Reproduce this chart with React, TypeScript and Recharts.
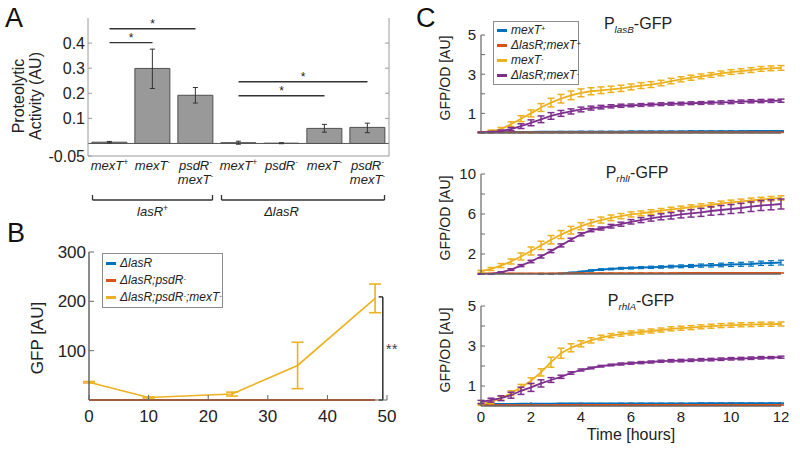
import React from "react";
import { BarChart, Bar, ComposedChart, Line, XAxis, YAxis, ErrorBar, ReferenceLine, Legend } from "recharts";

const FONT = "'Liberation Sans', Arial, Helvetica, sans-serif";
const BLUE = "#0072BD";
const RED = "#D95319";
const YELLOW = "#EDB120";
const PURPLE = "#7E2F8E";
const AXIS = "#666";
const BOX = "#9a9a9a";

// ---- panel A: proteolytic activity ----
const strainIds = ["s1", "s2", "s3", "s4", "s5", "s6", "s7"];
const strainLabels = [["mexT+"], ["mexT-"], ["psdR-", "mexT-"], ["mexT+"], ["psdR-"], ["mexT-"], ["psdR-", "mexT-"]];
const activity = [0.005, 0.299, 0.192, 0.003, 0.001, 0.06, 0.064];
const activityErrLow = [0.003, 0.08, 0.031, 0.006, 0.002, 0.015, 0.021];
const activityErrHigh = [0.003, 0.077, 0.031, 0.006, 0.002, 0.016, 0.017];
const strainGroups = [
  { label: "lasR+", from: 0, to: 2, at: 1 },
  { label: "ΔlasR", from: 3, to: 6, at: 4 },
];
const activitySig = [
  { from: "s1", to: "s3", y: 0.457 },
  { from: "s1", to: "s2", y: 0.402 },
  { from: "s4", to: "s7", y: 0.246 },
  { from: "s4", to: "s6", y: 0.19 },
];

// ---- panel B: GFP over time ----
const gfpHours = [0, 10, 24, 35, 48];
const gfpLasR = [0, 0, 0, 0, 0];
const gfpLasRPsdR = [0, 0, 0, 0, 0];
const gfpLasRPsdRMexT = [36, 5, 12, 70, 206];
const gfpLasRPsdRMexTErr = [1.5, 1, 4, 47, 29];
const gfpNames = ["ΔlasR", "ΔlasR;psdR-", "ΔlasR;psdR-;mexT-"];

// ---- panel C: GFP/OD time courses ----
const hours = [0, 0.4, 0.8, 1.2, 1.6, 2, 2.4, 2.8, 3.2, 3.6, 4, 4.4, 4.8, 5.2, 5.6, 6, 6.4, 6.8, 7.2, 7.6, 8, 8.4, 8.8, 9.2, 9.6, 10, 10.4, 10.8, 11.2, 11.6, 12];
const curveNames = ["mexT+", "ΔlasR;mexT+", "mexT-", "ΔlasR;mexT-"];

const lasBBlue = [0.04, 0.04, 0.04, 0.05, 0.05, 0.05, 0.06, 0.06, 0.06, 0.06, 0.07, 0.07, 0.07, 0.07, 0.07, 0.08, 0.08, 0.08, 0.08, 0.08, 0.08, 0.09, 0.09, 0.09, 0.09, 0.09, 0.09, 0.1, 0.1, 0.1, 0.1];
const lasBBlueErr = [0.01, 0.01, 0.01, 0.01, 0.01, 0.01, 0.01, 0.01, 0.02, 0.02, 0.02, 0.02, 0.02, 0.02, 0.02, 0.02, 0.02, 0.02, 0.02, 0.02, 0.02, 0.02, 0.02, 0.02, 0.02, 0.02, 0.02, 0.02, 0.02, 0.02, 0.02];
const lasBRed = [0.02, 0.02, 0.02, 0.02, 0.02, 0.02, 0.02, 0.02, 0.02, 0.02, 0.02, 0.02, 0.02, 0.02, 0.02, 0.03, 0.03, 0.03, 0.03, 0.03, 0.03, 0.03, 0.03, 0.03, 0.03, 0.03, 0.03, 0.03, 0.03, 0.03, 0.03];
const lasBRedErr = [0.01, 0.01, 0.01, 0.01, 0.01, 0.01, 0.01, 0.01, 0.01, 0.01, 0.01, 0.01, 0.01, 0.01, 0.01, 0.01, 0.01, 0.01, 0.01, 0.01, 0.01, 0.01, 0.01, 0.01, 0.01, 0.01, 0.01, 0.01, 0.01, 0.01, 0.01];
const lasBYellow = [0.03, 0.1, 0.2, 0.45, 0.73, 1.0, 1.3, 1.55, 1.75, 1.92, 2.05, 2.13, 2.18, 2.23, 2.28, 2.35, 2.42, 2.47, 2.55, 2.65, 2.74, 2.82, 2.89, 2.96, 3.04, 3.11, 3.16, 3.21, 3.27, 3.3, 3.32];
const lasBYellowErr = [0.03, 0.05, 0.08, 0.12, 0.15, 0.18, 0.2, 0.22, 0.22, 0.22, 0.2, 0.18, 0.17, 0.16, 0.16, 0.15, 0.15, 0.15, 0.14, 0.14, 0.13, 0.13, 0.12, 0.12, 0.12, 0.12, 0.12, 0.12, 0.12, 0.12, 0.12];
const lasBPurple = [0.03, 0.05, 0.1, 0.2, 0.35, 0.52, 0.7, 0.87, 1.0, 1.1, 1.2, 1.27, 1.32, 1.36, 1.39, 1.41, 1.43, 1.45, 1.47, 1.49, 1.5, 1.52, 1.53, 1.55, 1.56, 1.58, 1.6, 1.62, 1.63, 1.64, 1.65];
const lasBPurpleErr = [0.02, 0.03, 0.05, 0.08, 0.12, 0.15, 0.17, 0.17, 0.15, 0.13, 0.12, 0.1, 0.09, 0.08, 0.08, 0.07, 0.07, 0.07, 0.07, 0.07, 0.07, 0.07, 0.07, 0.07, 0.08, 0.08, 0.08, 0.08, 0.08, 0.08, 0.08];

const rhlIBlue = [0, 0, 0, 0, 0, 0, 0, 0.01, 0.05, 0.13, 0.22, 0.35, 0.44, 0.5, 0.57, 0.6, 0.64, 0.67, 0.7, 0.74, 0.77, 0.8, 0.84, 0.87, 0.9, 0.94, 0.97, 1.0, 1.07, 1.1, 1.14];
const rhlIBlueErr = [0, 0, 0, 0, 0, 0, 0.01, 0.02, 0.03, 0.05, 0.06, 0.07, 0.08, 0.08, 0.09, 0.1, 0.1, 0.11, 0.12, 0.13, 0.14, 0.15, 0.16, 0.17, 0.18, 0.19, 0.2, 0.21, 0.22, 0.23, 0.24];
const rhlIRed = [0.05, 0.05, 0.05, 0.05, 0.05, 0.05, 0.06, 0.06, 0.06, 0.06, 0.07, 0.07, 0.07, 0.07, 0.07, 0.08, 0.08, 0.08, 0.08, 0.08, 0.09, 0.09, 0.09, 0.09, 0.09, 0.1, 0.1, 0.1, 0.1, 0.1, 0.1];
const rhlIRedErr = [0.01, 0.01, 0.01, 0.01, 0.01, 0.01, 0.01, 0.01, 0.01, 0.01, 0.01, 0.01, 0.01, 0.01, 0.01, 0.01, 0.01, 0.01, 0.01, 0.01, 0.01, 0.01, 0.01, 0.01, 0.01, 0.01, 0.01, 0.01, 0.01, 0.01, 0.01];
const rhlIYellow = [0.27, 0.5, 0.84, 1.25, 1.75, 2.3, 2.86, 3.43, 3.94, 4.38, 4.78, 5.12, 5.39, 5.62, 5.79, 5.96, 6.06, 6.2, 6.33, 6.46, 6.57, 6.7, 6.8, 6.9, 7.07, 7.17, 7.27, 7.37, 7.45, 7.53, 7.6];
const rhlIYellowErr = [0.1, 0.15, 0.2, 0.25, 0.35, 0.4, 0.42, 0.42, 0.4, 0.38, 0.35, 0.32, 0.3, 0.28, 0.26, 0.25, 0.24, 0.23, 0.22, 0.22, 0.22, 0.22, 0.22, 0.22, 0.22, 0.22, 0.22, 0.22, 0.22, 0.22, 0.22];
const rhlIPurple = [0, 0, 0.17, 0.44, 0.84, 1.25, 1.75, 2.29, 2.86, 3.43, 3.97, 4.38, 4.55, 4.78, 4.98, 5.22, 5.39, 5.56, 5.72, 5.82, 5.96, 6.06, 6.16, 6.3, 6.4, 6.5, 6.6, 6.73, 6.85, 6.92, 7.0];
const rhlIPurpleErr = [0.02, 0.03, 0.05, 0.08, 0.1, 0.12, 0.15, 0.15, 0.15, 0.15, 0.15, 0.15, 0.15, 0.18, 0.2, 0.22, 0.25, 0.27, 0.3, 0.32, 0.35, 0.37, 0.4, 0.42, 0.45, 0.45, 0.47, 0.48, 0.5, 0.5, 0.5];

const rhlABlue = [0.1, 0.1, 0.1, 0.1, 0.11, 0.11, 0.11, 0.11, 0.12, 0.12, 0.12, 0.12, 0.12, 0.12, 0.13, 0.13, 0.13, 0.13, 0.13, 0.13, 0.13, 0.13, 0.14, 0.14, 0.14, 0.14, 0.14, 0.14, 0.14, 0.14, 0.14];
const rhlABlueErr = [0.01, 0.01, 0.01, 0.01, 0.01, 0.01, 0.01, 0.01, 0.01, 0.01, 0.01, 0.01, 0.01, 0.01, 0.01, 0.01, 0.01, 0.01, 0.01, 0.01, 0.01, 0.01, 0.01, 0.01, 0.01, 0.01, 0.01, 0.01, 0.01, 0.01, 0.01];
const rhlARed = [0.04, 0.04, 0.04, 0.04, 0.04, 0.04, 0.04, 0.04, 0.05, 0.05, 0.05, 0.05, 0.05, 0.05, 0.05, 0.05, 0.05, 0.05, 0.05, 0.05, 0.05, 0.05, 0.05, 0.05, 0.05, 0.05, 0.05, 0.05, 0.05, 0.05, 0.05];
const rhlARedErr = [0.01, 0.01, 0.01, 0.01, 0.01, 0.01, 0.01, 0.01, 0.01, 0.01, 0.01, 0.01, 0.01, 0.01, 0.01, 0.01, 0.01, 0.01, 0.01, 0.01, 0.01, 0.01, 0.01, 0.01, 0.01, 0.01, 0.01, 0.01, 0.01, 0.01, 0.01];
const rhlAYellow = [0.08, 0.2, 0.39, 0.64, 0.93, 1.26, 1.68, 2.19, 2.64, 2.91, 3.11, 3.28, 3.42, 3.52, 3.59, 3.65, 3.7, 3.75, 3.8, 3.86, 3.89, 3.92, 3.96, 3.99, 4.02, 4.04, 4.06, 4.07, 4.09, 4.09, 4.1];
const rhlAYellowErr = [0.05, 0.08, 0.1, 0.12, 0.15, 0.15, 0.18, 0.25, 0.25, 0.2, 0.15, 0.13, 0.12, 0.1, 0.1, 0.1, 0.1, 0.1, 0.1, 0.1, 0.1, 0.1, 0.1, 0.1, 0.1, 0.1, 0.1, 0.1, 0.1, 0.1, 0.1];
const rhlAPurple = [0.2, 0.29, 0.39, 0.54, 0.76, 0.93, 1.13, 1.3, 1.46, 1.65, 1.8, 1.9, 1.99, 2.05, 2.1, 2.14, 2.17, 2.2, 2.24, 2.26, 2.27, 2.29, 2.31, 2.32, 2.34, 2.36, 2.37, 2.39, 2.41, 2.42, 2.44];
const rhlAPurpleErr = [0.08, 0.1, 0.12, 0.15, 0.18, 0.2, 0.18, 0.12, 0.08, 0.06, 0.05, 0.04, 0.04, 0.04, 0.05, 0.05, 0.05, 0.05, 0.05, 0.06, 0.06, 0.06, 0.06, 0.06, 0.06, 0.06, 0.06, 0.06, 0.06, 0.05, 0.05];

const activityRows = strainIds.map((id, i) => ({ id, v: activity[i], err: [activityErrLow[i], activityErrHigh[i]] }));
const gfpRows = gfpHours.map((h, i) => ({ h, a: gfpLasR[i], b: gfpLasRPsdR[i], c: gfpLasRPsdRMexT[i], cErr: gfpLasRPsdRMexTErr[i] }));

function buildRows(b: number[], be: number[], r: number[], re: number[], y: number[], ye: number[], p: number[], pe: number[]) {
  return hours.map((t, i) => ({ t, b: b[i], be: be[i], r: r[i], re: re[i], y: y[i], ye: ye[i], p: p[i], pe: pe[i] }));
}
const lasBRows = buildRows(lasBBlue, lasBBlueErr, lasBRed, lasBRedErr, lasBYellow, lasBYellowErr, lasBPurple, lasBPurpleErr);
const rhlIRows = buildRows(rhlIBlue, rhlIBlueErr, rhlIRed, rhlIRedErr, rhlIYellow, rhlIYellowErr, rhlIPurple, rhlIPurpleErr);
const rhlARows = buildRows(rhlABlue, rhlABlueErr, rhlARed, rhlARedErr, rhlAYellow, rhlAYellowErr, rhlAPurple, rhlAPurpleErr);

// gene names: trailing +/- is written as a superscript
function svgGene(text: string, fs: number) {
  const out: React.ReactNode[] = [];
  let raised = false;
  text.split(/([+-])/).filter(Boolean).forEach((p, i) => {
    if (p === "+" || p === "-") {
      out.push(<tspan key={i} fontSize={fs * 0.65} dy={-fs * 0.4}>{p}</tspan>);
      raised = true;
    } else {
      out.push(<tspan key={i} dy={raised ? fs * 0.4 : 0}>{p}</tspan>);
      raised = false;
    }
  });
  return out;
}

function Gene({ text }: { text: string }) {
  const parts = text.split(/([+-])/).filter(Boolean);
  return (
    <span style={{ fontStyle: "italic" }}>
      {parts.map((p, i) =>
        p === "+" || p === "-" ? (
          <sup key={i} style={{ fontSize: "0.62em", verticalAlign: "0.45em", lineHeight: 0 }}>{p}</sup>
        ) : (
          <span key={i}>{p}</span>
        )
      )}
    </span>
  );
}

function LegendBox({ names, colors, fontSize, rowHeight }: { names: string[]; colors: string[]; fontSize: number; rowHeight: number }) {
  return (
    <div style={{ border: "1px solid #8c8c8c", background: "#fff", padding: "1px 3px", fontFamily: FONT, fontSize, color: "#222" }}>
      {names.map((n, i) => (
        <div key={n} style={{ height: rowHeight, lineHeight: `${rowHeight}px`, whiteSpace: "nowrap" }}>
          <span style={{ display: "inline-block", width: 10, height: 3, background: colors[i], verticalAlign: "middle", marginRight: 4 }} />
          <Gene text={n} />
        </div>
      ))}
    </div>
  );
}

const A_BAND = 301 / strainIds.length;

function StrainTick(props: any) {
  const { x, y, index } = props;
  const lines = strainLabels[index] || [];
  const g = strainGroups.find((s) => index >= s.from && index <= s.to)!;
  const left = index === g.from ? x - 17 : x - A_BAND / 2;
  const right = index === g.to ? x + 17 : x + A_BAND / 2;
  const by = y + 44;
  return (
    <g>
      {lines.map((ln, li) => (
        <text key={li} x={x} y={y + 14 + li * 14} textAnchor="middle" fontStyle="italic" fontSize={13} fill="#222" fontFamily={FONT}>
          {svgGene(ln, 13)}
        </text>
      ))}
      <line x1={left} x2={right} y1={by} y2={by} stroke="#333" strokeWidth={1.3} />
      {index === g.from && <line x1={left} x2={left} y1={by} y2={by - 5} stroke="#333" strokeWidth={1.3} />}
      {index === g.to && <line x1={right} x2={right} y1={by} y2={by - 5} stroke="#333" strokeWidth={1.3} />}
      {index === g.at && (
        <text x={x} y={by + 16} textAnchor="middle" fontStyle="italic" fontSize={13} fill="#222" fontFamily={FONT}>
          {svgGene(g.label, 13)}
        </text>
      )}
    </g>
  );
}

function ActivityLabel(props: any) {
  const vb = props.viewBox;
  const cy = vb.y + vb.height / 2 + 9;
  return (
    <g fontFamily={FONT} fontSize={16} fill="#222">
      <text x={vb.x + 24} y={cy} transform={`rotate(-90 ${vb.x + 24} ${cy})`} textAnchor="middle">Proteolytic</text>
      <text x={vb.x + 41} y={cy} transform={`rotate(-90 ${vb.x + 41} ${cy})`} textAnchor="middle">Activity (AU)</text>
    </g>
  );
}

function GfpLabel(props: any) {
  const vb = props.viewBox;
  const x = vb.x + 43;
  const y = vb.y + vb.height / 2 + 12;
  return (
    <text x={x} y={y} transform={`rotate(-90 ${x} ${y})`} textAnchor="middle" fontSize={17} fill="#222" fontFamily={FONT}>
      GFP [AU]
    </text>
  );
}

function ActivityChart() {
  return (
    <BarChart width={400} height={220} data={activityRows} margin={{ top: 18, right: 10, bottom: 0, left: 0 }} barCategoryGap="9%">
      <XAxis dataKey="id" height={64} axisLine={{ stroke: BOX }} tickLine={false} tickSize={0} tickMargin={0} interval={0} tick={<StrainTick />} />
      <XAxis xAxisId="top" dataKey="id" orientation="top" height={0} tick={false} tickLine={false} axisLine={{ stroke: BOX }} />
      <YAxis width={88} domain={[-0.05, 0.5]} ticks={[-0.05, 0.1, 0.2, 0.3, 0.4]} allowDataOverflow tickSize={-4} tickMargin={7}
        axisLine={{ stroke: BOX }} tickLine={{ stroke: BOX }} tick={{ fontSize: 16, fill: "#222", fontFamily: FONT }} label={{ content: ActivityLabel }} />
      <YAxis yAxisId="r" orientation="right" width={1} domain={[-0.05, 0.5]} ticks={[0.1, 0.2, 0.3, 0.4]} allowDataOverflow tickSize={-4}
        tickFormatter={() => ""} axisLine={{ stroke: BOX }} tickLine={{ stroke: BOX }} />
      <ReferenceLine y={0} stroke="#555" strokeWidth={1} />
      <Bar dataKey="v" fill="#999999" stroke="#4f4f4f" strokeWidth={1} isAnimationActive={false}>
        <ErrorBar dataKey="err" width={2.5} stroke="#333" strokeWidth={1} />
      </Bar>
      {activitySig.map((s, i) => (
        <ReferenceLine key={i} segment={[{ x: s.from, y: s.y }, { x: s.to, y: s.y }]} stroke="#333" strokeWidth={1.4} ifOverflow="visible"
          label={{ value: "*", position: "top", offset: 1, fontSize: 12, fill: "#222" }} />
      ))}
    </BarChart>
  );
}

function GfpChart() {
  return (
    <ComposedChart width={420} height={237} data={gfpRows} margin={{ top: 32, right: 33, bottom: 0, left: 0 }}>
      <XAxis type="number" dataKey="h" domain={[0, 50]} ticks={[0, 10, 20, 30, 40, 50]} height={57} tickSize={-5} tickMargin={15}
        axisLine={{ stroke: AXIS }} tickLine={{ stroke: AXIS }} tick={{ fontSize: 17, fill: "#222", fontFamily: FONT }} />
      <YAxis domain={[0, 300]} ticks={[100, 200, 300]} width={89} tickSize={-5} tickMargin={8} axisLine={{ stroke: AXIS, strokeWidth: 1.5 }}
        tickLine={{ stroke: AXIS }} tick={{ fontSize: 17, fill: "#222", fontFamily: FONT }} label={{ content: GfpLabel }} />
      <Legend layout="vertical" align="center" verticalAlign="middle" wrapperStyle={{ left: 102, top: 33, width: 121 }}
        content={() => <LegendBox names={gfpNames} colors={[BLUE, RED, YELLOW]} fontSize={12} rowHeight={17} />} />
      <Line dataKey="a" name={gfpNames[0]} stroke={BLUE} strokeWidth={2} dot={false} isAnimationActive={false} />
      <Line dataKey="b" name={gfpNames[1]} stroke={RED} strokeWidth={2} dot={false} isAnimationActive={false} />
      <Line dataKey="c" name={gfpNames[2]} stroke={YELLOW} strokeWidth={1.6} dot={false} isAnimationActive={false}>
        <ErrorBar dataKey="cErr" width={6} stroke={YELLOW} strokeWidth={1.6} />
      </Line>
      <ReferenceLine segment={[{ x: 49.3, y: 0 }, { x: 49.3, y: 209 }]} stroke="#222" strokeWidth={1.4} ifOverflow="visible"
        label={{ value: "**", position: "right", offset: 3, fontSize: 15, fill: "#444" }} />
      <ReferenceLine segment={[{ x: 48.6, y: 209 }, { x: 49.3, y: 209 }]} stroke="#222" strokeWidth={1.4} ifOverflow="visible" />
      <ReferenceLine segment={[{ x: 48.6, y: 0 }, { x: 49.3, y: 0 }]} stroke="#222" strokeWidth={1.4} ifOverflow="visible" />
    </ComposedChart>
  );
}

function OdLabel(props: any) {
  const vb = props.viewBox;
  const x = vb.x + 25;
  const y = vb.y + vb.height / 2 - 6;
  return (
    <text x={x} y={y} transform={`rotate(-90 ${x} ${y})`} textAnchor="middle" dominantBaseline="central" fontSize={14} fill="#222" fontFamily={FONT}>
      GFP/OD [AU]
    </text>
  );
}

function TimeLabel(props: any) {
  const vb = props.viewBox;
  return (
    <text x={vb.x + vb.width / 2} y={vb.y + 34} textAnchor="middle" fontSize={16} fill="#222" fontFamily={FONT}>
      Time [hours]
    </text>
  );
}

type PanelProps = {
  rows: any[];
  width: number;
  height: number;
  margin: { top: number; right: number; bottom: number; left: number };
  xHeight: number;
  yMax: number;
  yTicks: number[];
  yLabelled: number[];
  showTime?: boolean;
  legend?: boolean;
};

function GrowthPanel({ rows, width, height, margin, xHeight, yMax, yTicks, yLabelled, showTime, legend }: PanelProps) {
  return (
    <ComposedChart width={width} height={height} data={rows} margin={margin}>
      <XAxis type="number" dataKey="t" domain={[0, 12]} ticks={[0, 2, 4, 6, 8, 10, 12]} height={xHeight} tickSize={-4} tickMargin={9}
        axisLine={{ stroke: AXIS, strokeWidth: 1.5 }} tickLine={{ stroke: AXIS }}
        tick={showTime ? { fontSize: 15, fill: "#222", fontFamily: FONT } : false}
        label={showTime ? { content: TimeLabel } : undefined} />
      <YAxis domain={[0, yMax]} ticks={yTicks} allowDataOverflow width={61} tickSize={-4} tickMargin={9}
        tickFormatter={(v: number) => (yLabelled.includes(v) ? String(v) : "")}
        axisLine={{ stroke: AXIS, strokeWidth: 1.2 }} tickLine={{ stroke: AXIS }} tick={{ fontSize: 15, fill: "#222", fontFamily: FONT }}
        label={{ content: OdLabel }} />
      {legend && (
        <Legend layout="vertical" align="center" verticalAlign="middle" wrapperStyle={{ left: 73, top: 21, width: 86 }}
          content={() => <LegendBox names={curveNames} colors={[BLUE, RED, YELLOW, PURPLE]} fontSize={12} rowHeight={15} />} />
      )}
      <Line dataKey="b" name={curveNames[0]} stroke={BLUE} strokeWidth={2} dot={false} isAnimationActive={false}>
        <ErrorBar dataKey="be" width={3} stroke={BLUE} strokeWidth={1.2} />
      </Line>
      <Line dataKey="r" name={curveNames[1]} stroke={RED} strokeWidth={2} dot={false} isAnimationActive={false}>
        <ErrorBar dataKey="re" width={3} stroke={RED} strokeWidth={1.2} />
      </Line>
      <Line dataKey="y" name={curveNames[2]} stroke={YELLOW} strokeWidth={1.8} dot={false} isAnimationActive={false}>
        <ErrorBar dataKey="ye" width={3.5} stroke={YELLOW} strokeWidth={1.5} />
      </Line>
      <Line dataKey="p" name={curveNames[3]} stroke={PURPLE} strokeWidth={1.8} dot={false} isAnimationActive={false}>
        <ErrorBar dataKey="pe" width={3.5} stroke={PURPLE} strokeWidth={1.5} />
      </Line>
    </ComposedChart>
  );
}

function Title({ gene, left, top }: { gene: string; left: number; top: number }) {
  return (
    <div style={{ position: "absolute", left: left - 100, top, width: 200, textAlign: "center", fontSize: 16, lineHeight: 1, color: "#222" }}>
      P<span style={{ fontSize: "0.62em", fontStyle: "italic", verticalAlign: "-0.4em", lineHeight: 0 }}>{gene}</span>-GFP
    </div>
  );
}

function Letter({ ch, left, top }: { ch: string; left: number; top: number }) {
  return <div style={{ position: "absolute", left, top, fontSize: 27, lineHeight: 1, color: "#111" }}>{ch}</div>;
}

export default function App() {
  return (
    <div style={{ position: "absolute", left: 0, top: 0, width: 800, height: 457, background: "#fff", fontFamily: FONT, overflow: "hidden" }}>
      <div style={{ position: "absolute", left: 0, top: 0 }}>
        <ActivityChart />
      </div>
      <div style={{ position: "absolute", left: 0, top: 220 }}>
        <GfpChart />
      </div>
      <div style={{ position: "absolute", left: 420, top: 0 }}>
        <GrowthPanel rows={lasBRows} width={380} height={145} margin={{ top: 35, right: 19, bottom: 11, left: 0 }} xHeight={1}
          yMax={5} yTicks={[1, 2, 3, 4, 5]} yLabelled={[1, 3, 5]} legend />
      </div>
      <div style={{ position: "absolute", left: 420, top: 150 }}>
        <GrowthPanel rows={rhlIRows} width={380} height={140} margin={{ top: 24, right: 19, bottom: 15, left: 0 }} xHeight={1}
          yMax={10} yTicks={[2, 4, 6, 8, 10]} yLabelled={[2, 6, 10]} />
      </div>
      <div style={{ position: "absolute", left: 420, top: 290 }}>
        <GrowthPanel rows={rhlARows} width={380} height={167} margin={{ top: 16, right: 19, bottom: 0, left: 0 }} xHeight={51}
          yMax={5} yTicks={[1, 2, 3, 4, 5]} yLabelled={[1, 3, 5]} showTime />
      </div>
      <Title gene="lasB" left={638} top={16} />
      <Title gene="rhlI" left={637} top={165} />
      <Title gene="rhlA" left={641} top={293} />
      <Letter ch="A" left={5} top={5} />
      <Letter ch="B" left={7} top={220} />
      <Letter ch="C" left={416} top={5} />
    </div>
  );
}
